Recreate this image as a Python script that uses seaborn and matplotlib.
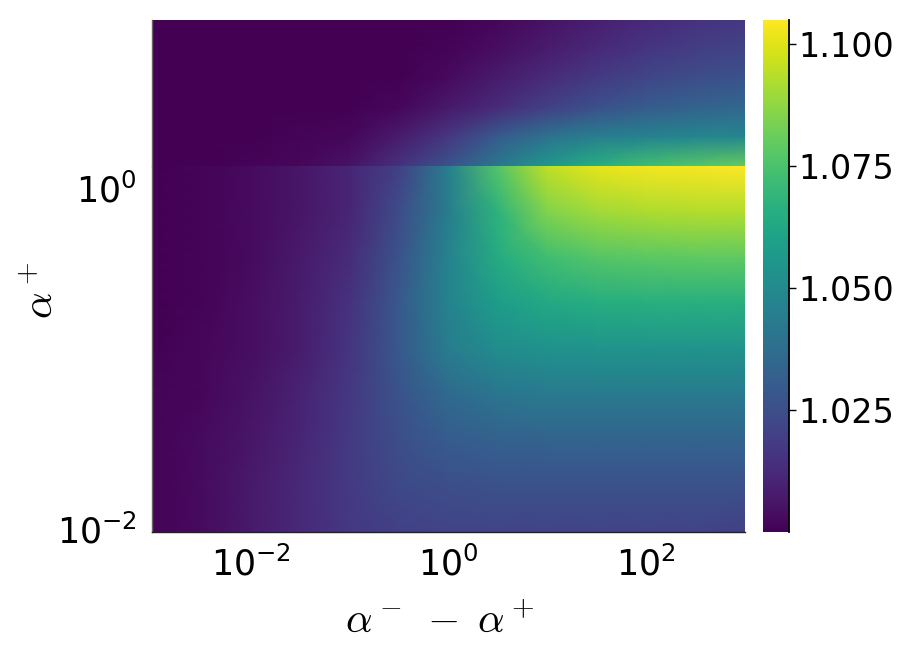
import numpy as np
import pandas as pd
import seaborn as sns
import matplotlib.pyplot as plt

# log10(alpha^- - alpha^+), left to right
x_exp = [-3.0, -2.5, -2.0, -1.5, -1.0, -0.5, 0.0, 0.5, 1.0, 1.5, 2.0, 2.5, 3.0]

# log10(alpha^+) above the jump, top to bottom
y_exp_top = [1.0, 0.83, 0.66, 0.49, 0.32, 0.15]
z_top = [
    [1.000, 1.000, 1.000, 1.000, 1.000, 1.000, 1.000, 1.002, 1.005, 1.009, 1.012, 1.015, 1.017],
    [1.000, 1.000, 1.000, 1.000, 1.000, 1.000, 1.001, 1.004, 1.008, 1.012, 1.016, 1.019, 1.021],
    [1.000, 1.000, 1.000, 1.000, 1.000, 1.000, 1.003, 1.008, 1.013, 1.018, 1.022, 1.025, 1.027],
    [1.000, 1.000, 1.000, 1.000, 1.000, 1.002, 1.007, 1.013, 1.020, 1.026, 1.030, 1.033, 1.035],
    [1.000, 1.000, 1.000, 1.001, 1.002, 1.008, 1.017, 1.030, 1.040, 1.045, 1.047, 1.048, 1.048],
    [1.000, 1.000, 1.001, 1.002, 1.005, 1.015, 1.027, 1.042, 1.056, 1.066, 1.073, 1.077, 1.080],
]

# log10(alpha^+) below the jump, top to bottom
y_exp_bot = [0.15, -0.119, -0.388, -0.656, -0.925, -1.194, -1.463, -1.731, -2.0]
z_bot = [
    [1.000, 1.001, 1.003, 1.006, 1.011, 1.020, 1.045, 1.077, 1.095, 1.101, 1.103, 1.104, 1.105],
    [1.000, 1.001, 1.003, 1.006, 1.011, 1.024, 1.044, 1.068, 1.085, 1.090, 1.092, 1.093, 1.093],
    [1.000, 1.001, 1.003, 1.007, 1.013, 1.027, 1.047, 1.064, 1.073, 1.077, 1.078, 1.079, 1.079],
    [1.000, 1.001, 1.004, 1.008, 1.015, 1.029, 1.047, 1.058, 1.063, 1.065, 1.066, 1.066, 1.066],
    [1.000, 1.002, 1.004, 1.008, 1.016, 1.029, 1.044, 1.051, 1.053, 1.054, 1.054, 1.054, 1.054],
    [1.001, 1.002, 1.005, 1.010, 1.017, 1.027, 1.036, 1.041, 1.043, 1.043, 1.043, 1.043, 1.043],
    [1.001, 1.003, 1.006, 1.011, 1.018, 1.025, 1.030, 1.032, 1.033, 1.033, 1.033, 1.033, 1.033],
    [1.001, 1.003, 1.007, 1.012, 1.018, 1.023, 1.025, 1.026, 1.026, 1.026, 1.026, 1.026, 1.026],
    [1.001, 1.003, 1.007, 1.012, 1.017, 1.020, 1.021, 1.021, 1.021, 1.021, 1.021, 1.021, 1.020],
]

x_ticks = [-2, 0, 2]
y_ticks = [0, -2]
cbar_ticks = [1.025, 1.050, 1.075, 1.100]
vmin, vmax = 1.0, 1.105

df_top = pd.DataFrame(z_top, index=y_exp_top, columns=x_exp)
df_bot = pd.DataFrame(z_bot, index=y_exp_bot, columns=x_exp)

sns.set_style('white')
plt.rcParams['font.family'] = ['DejaVu Sans']
plt.rcParams['mathtext.fontset'] = 'dejavusans'
plt.rcParams['text.color'] = 'black'
plt.rcParams['axes.labelcolor'] = 'black'
plt.rcParams['xtick.color'] = 'black'
plt.rcParams['ytick.color'] = 'black'

fig = plt.figure(figsize=(9, 6.54), dpi=100)
W, H = 900, 654
left, right, top, bottom, jump = 152, 745, 20, 532, 166
ax_top = fig.add_axes([left / W, (H - jump) / H, (right - left) / W, (jump - top) / H])
ax_bot = fig.add_axes([left / W, (H - bottom) / H, (right - left) / W, (bottom - jump) / H])
cax = fig.add_axes([763 / W, (H - bottom) / H, 26 / W, (bottom - top) / H])

sns.heatmap(df_top, ax=ax_top, cmap='viridis', vmin=vmin, vmax=vmax,
            cbar=False, shading='gouraud')
sns.heatmap(df_bot, ax=ax_bot, cmap='viridis', vmin=vmin, vmax=vmax,
            cbar_ax=cax, shading='gouraud',
            cbar_kws={'ticks': cbar_ticks, 'format': '%.3f'})

nx = len(x_exp)
ax_top.set_xlim(0, nx - 1)
ax_top.set_ylim(len(y_exp_top) - 1, 0)
ax_bot.set_xlim(0, nx - 1)
ax_bot.set_ylim(len(y_exp_bot) - 1, 0)

# tick positions on the index grid
xt = np.interp(x_ticks, x_exp, np.arange(nx))
yt = np.interp(y_ticks, y_exp_bot[::-1], np.arange(len(y_exp_bot))[::-1])

ax_top.set_xticks([])
ax_top.set_yticks([])
ax_bot.set_xticks(xt)
ax_bot.set_xticklabels([rf'$10^{{{v}}}$' for v in x_ticks], rotation=0)
ax_bot.set_yticks(yt)
ax_bot.set_yticklabels([rf'$10^{{{v}}}$' for v in y_ticks], rotation=0)
ax_bot.tick_params(axis='x', length=0, pad=10, labelsize=25)
ax_bot.tick_params(axis='y', length=0, pad=11, labelsize=25)

for a in (ax_top, ax_bot):
    a.spines['left'].set_visible(True)
    a.spines['left'].set_color('#666666')
    a.spines['left'].set_linewidth(1.0)
ax_bot.spines['bottom'].set_visible(True)
ax_bot.spines['bottom'].set_color('#222222')
ax_bot.spines['bottom'].set_linewidth(1.0)

ax_bot.set_ylabel('')
ax_bot.set_xlabel('')
fig.text(440 / W, (H - 620) / H, r'$\alpha^-\;-\;\alpha^+$', fontsize=30,
         math_fontfamily='cm', ha='center', va='center')
fig.text(40 / W, (H - 290) / H, r'$\alpha^+$', fontsize=30, math_fontfamily='cm',
         rotation=90, ha='center', va='center')

cax.spines['right'].set_visible(True)
cax.spines['right'].set_color('black')
cax.spines['right'].set_linewidth(1.3)
cax.tick_params(axis='y', length=5, width=1.0, color='black', pad=2, labelsize=24)

plt.savefig('out.png', dpi=100)
plt.close()
